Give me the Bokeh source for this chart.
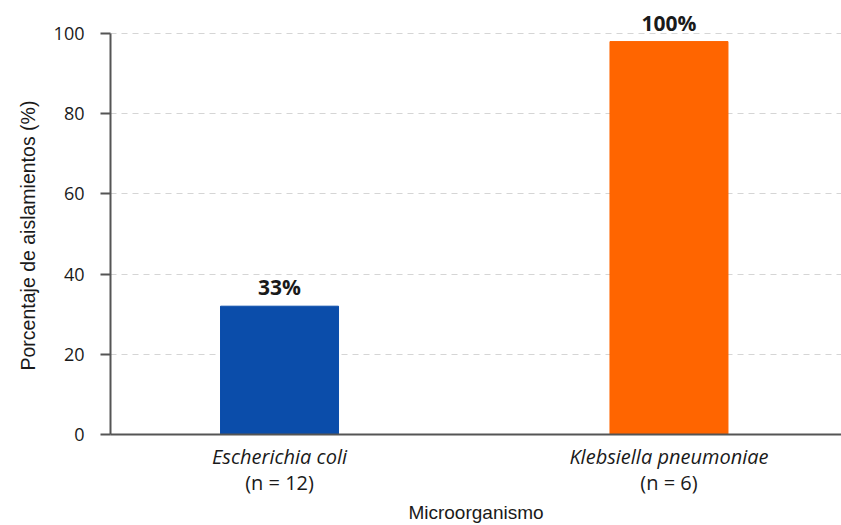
from bokeh.plotting import figure
from bokeh.models import Range1d, LinearAxis, FixedTicker, ColumnDataSource, Title
from bokeh.core.properties import value
from bokeh.embed import file_html
from bokeh.resources import INLINE

categories = ["Escherichia coli", "Klebsiella pneumoniae"]
sample_sizes = ["(n = 12)", "(n = 6)"]
values = [32, 98]
value_labels = ["33%", "100%"]
colors = ["#0B4DAA", "#FF6500"]
y_ticks = [0, 20, 40, 60, 80, 100]

FONT = "Open Sans"
TITLE_FONT = "Liberation Sans"
x = list(range(len(categories)))
src = ColumnDataSource(dict(x=x, top=values, label=value_labels, color=colors))

p = figure(width=841, height=525, output_backend="svg", toolbar_location=None,
           x_range=Range1d(-0.434, 1.443), y_range=Range1d(0, 106),
           min_border_left=110, min_border_right=0, min_border_top=9,
           min_border_bottom=91)
p.outline_line_color = None
p.background_fill_color = "white"

p.vbar(x="x", top="top", width=0.303, bottom=0, color="color", source=src)
p.text(x="x", y="top", text="label", source=src, y_offset=-5,
       text_align="center", text_baseline="bottom",
       text_font=value(FONT), text_font_style="bold", text_font_size="21px",
       text_color="#1a1a1a")

# grid
p.xgrid.grid_line_color = None
p.ygrid.ticker = FixedTicker(ticks=y_ticks[1:])
p.ygrid.grid_line_color = "#d5d5d5"
p.ygrid.grid_line_dash = "6 5"
p.ygrid.grid_line_width = 1

# y axis
ya = p.yaxis[0]
ya.ticker = FixedTicker(ticks=y_ticks)
ya.bounds = (0, 100)
ya.major_label_text_font = FONT
ya.major_label_text_font_size = "18px"
ya.major_label_text_color = "#1a1a1a"
ya.major_label_standoff = 16
ya.major_tick_out = 10
ya.major_tick_in = 0
ya.minor_tick_line_color = None
ya.axis_line_color = "#555555"
ya.axis_line_width = 2
ya.major_tick_line_color = "#555555"
ya.major_tick_line_width = 2

ytitle = Title(text="Porcentaje de aislamientos (%)", align="left", offset=64,
               text_font=TITLE_FONT, text_font_style="normal",
               text_font_size="19.5px", text_color="#1a1a1a", standoff=24)
p.add_layout(ytitle, "left")

# x axis (species, italic)
xa = p.xaxis[0]
xa.ticker = FixedTicker(ticks=x)
xa.major_label_overrides = {i: c for i, c in zip(x, categories)}
xa.major_label_text_font = FONT
xa.major_label_text_font_style = "italic"
xa.major_label_text_font_size = "20px"
xa.major_label_text_color = "#1a1a1a"
xa.major_label_standoff = 8
xa.major_tick_out = 0
xa.major_tick_in = 0
xa.major_tick_line_color = None
xa.minor_tick_line_color = None
xa.axis_line_color = "#555555"
xa.axis_line_width = 2

# second x axis (sample sizes)
xb = LinearAxis(ticker=FixedTicker(ticks=x),
                major_label_overrides={i: s for i, s in zip(x, sample_sizes)})
xb.major_label_text_font = FONT
xb.major_label_text_font_size = "20px"
xb.major_label_text_color = "#1a1a1a"
xb.major_label_standoff = -4
xb.major_tick_out = 0
xb.major_tick_in = 0
xb.major_tick_line_color = None
xb.minor_tick_line_color = None
xb.axis_line_color = None
xb.axis_label = "Microorganismo"
xb.axis_label_text_font = TITLE_FONT
xb.axis_label_text_font_style = "normal"
xb.axis_label_text_font_size = "19px"
xb.axis_label_text_color = "#1a1a1a"
xb.axis_label_standoff = 3
p.add_layout(xb, "below")

open("out.html", "w").write(file_html(p, INLINE))
